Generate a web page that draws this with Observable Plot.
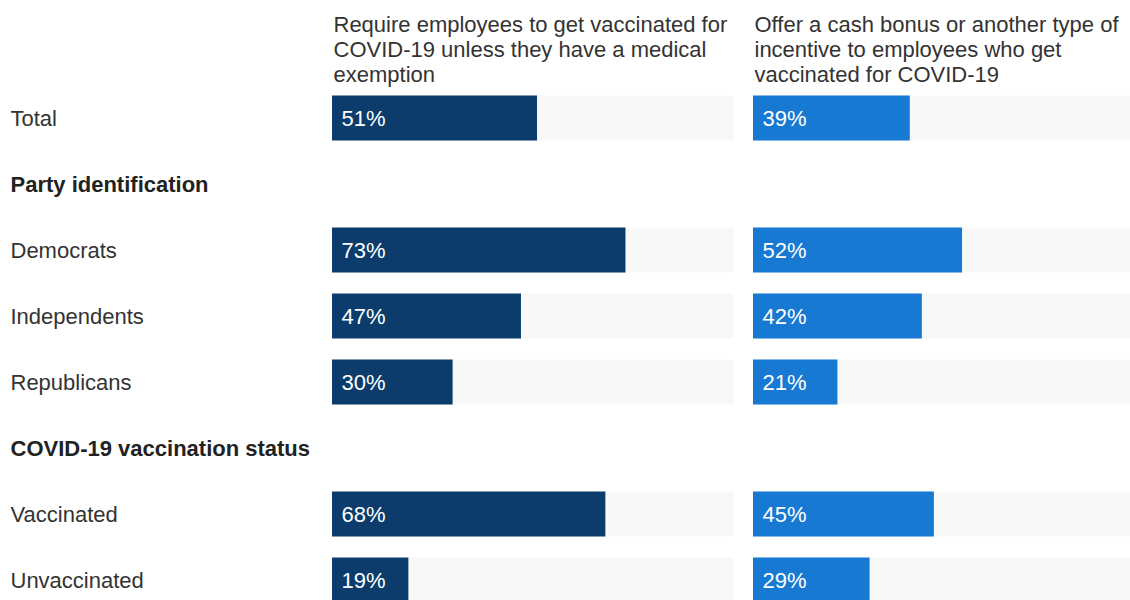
<!DOCTYPE html>
<html>
<head>
<meta charset="utf-8">
<script src="https://cdn.jsdelivr.net/npm/d3@7"></script>
<script src="https://cdn.jsdelivr.net/npm/@observablehq/plot@0.6"></script>
<style>
  body { margin: 0; background: #fff; }
  #chart { width: 1130px; height: 600px; overflow: hidden; }
  #chart svg { max-width: none !important; }
</style>
</head>
<body>
<div id="chart"></div>
<script>
const rows = ["Total", "Party identification", "Democrats", "Independents", "Republicans", "COVID-19 vaccination status", "Vaccinated", "Unvaccinated"];
const headerRows = ["Party identification", "COVID-19 vaccination status"];
const questions = [
  "Require employees to get vaccinated for\nCOVID-19 unless they have a medical\nexemption",
  "Offer a cash bonus or another type of\nincentive to employees who get\nvaccinated for COVID-19"
];
const requireValues = [51, null, 73, 47, 30, null, 68, 19];
const incentiveValues = [39, null, 52, 42, 21, null, 45, 29];
const barColors = ["#0b3c6c", "#1879d2"];

const seriesValues = [requireValues, incentiveValues];
const data = [];
questions.forEach((q, qi) => {
  rows.forEach((r, ri) => {
    const v = seriesValues[qi][ri];
    if (v != null) data.push({question: q, row: r, value: v});
  });
});

const chart = Plot.plot({
  width: 1155,
  height: 613,
  marginLeft: 332,
  marginRight: 0,
  marginTop: 85,
  marginBottom: 0,
  style: {fontFamily: "'Liberation Sans', Arial, sans-serif", fontSize: "22px", color: "#333", background: "#fff", overflow: "visible"},
  x: {domain: [0, 100], axis: null},
  y: {domain: rows, padding: 0, axis: null},
  fx: {domain: questions, paddingInner: 19 / 421, paddingOuter: 0, axis: null},
  color: {domain: questions, range: barColors},
  marks: [
    Plot.barX(data, {fx: "question", y: "row", x1: 0, x2: 100, fill: "#f8f8f8", insetTop: 10.5, insetBottom: 10.5}),
    Plot.barX(data, {fx: "question", y: "row", x: "value", fill: "question", insetTop: 10.5, insetBottom: 10.5}),
    Plot.text(data, {fx: "question", y: "row", x: 0, text: d => d.value + "%", textAnchor: "start", dx: 9, fill: "white"}),
    Plot.text(questions, {fx: d => d, text: d => d, frameAnchor: "top-left", lineAnchor: "top", dy: -71, dx: 1, lineHeight: 1.14, fill: "#333"}),
    Plot.axisY(rows.filter(r => !headerRows.includes(r)), {tickSize: 0, tickPadding: 0, textAnchor: "start", dx: -322, fill: "#333", label: null}),
    Plot.axisY(headerRows, {tickSize: 0, tickPadding: 0, textAnchor: "start", dx: -322, fill: "#222", fontWeight: "bold", label: null})
  ]
});
chart.style.maxWidth = "none";
document.getElementById("chart").appendChild(chart);
</script>
</body>
</html>
